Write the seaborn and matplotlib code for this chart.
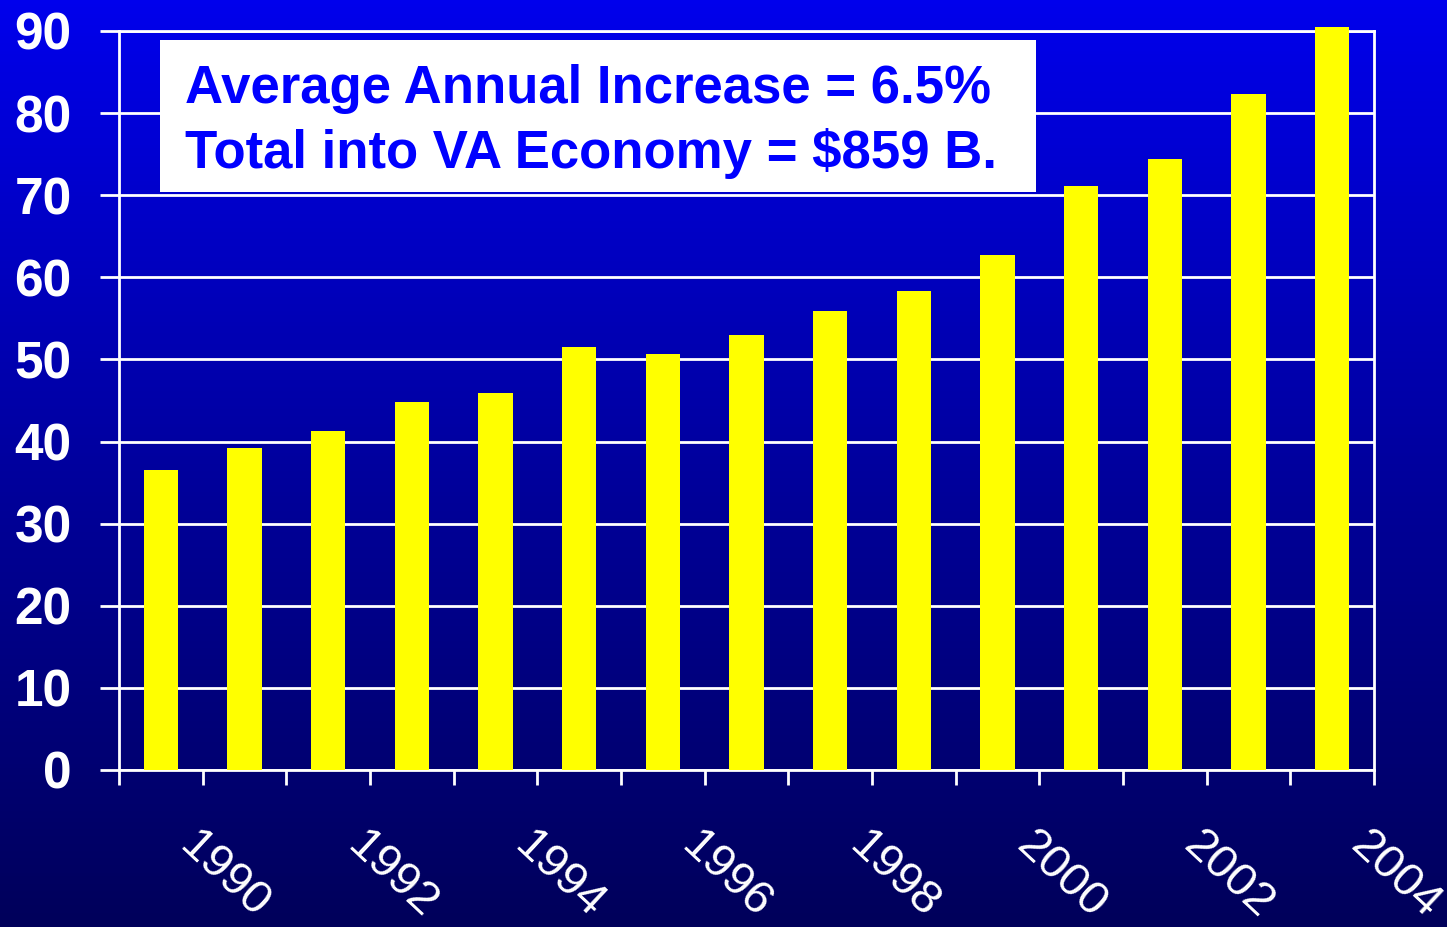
import numpy as np
import seaborn as sns
import matplotlib.pyplot as plt
from matplotlib.colors import LinearSegmentedColormap
from matplotlib.patches import Rectangle
from matplotlib.transforms import ScaledTranslation

# Values (billions of dollars)
years = [str(y) for y in range(1990, 2005)]
values = [36.5, 39.2, 41.3, 44.8, 45.9, 51.5, 50.7, 53.0, 55.9, 58.3,
          62.7, 71.1, 74.4, 82.3, 90.5]
yticks = list(range(0, 100, 10))
shown_years = years[::2]
box_lines = ["Average Annual Increase = 6.5%", "Total into VA Economy = $859 B."]

sns.set_style("white")
plt.rcParams['font.family'] = ['Liberation Sans', 'DejaVu Sans']

fig = plt.figure(figsize=(14.47, 9.27), dpi=100)

# gradient background
bg = fig.add_axes([0, 0, 1, 1], zorder=-10)
cmap = LinearSegmentedColormap.from_list("bg", ["#00005A", "#00009E", "#0000EC"])
bg.imshow(np.linspace(0, 1, 256).reshape(-1, 1), aspect='auto', cmap=cmap,
          origin='lower', extent=[0, 1, 0, 1])
bg.axis('off')

ax = fig.add_axes([0.0822, 0.1694, 0.8674, 0.7972])
ax.patch.set_alpha(0)
sns.barplot(x=years, y=values, color='#FFFF00', saturation=1, width=0.41,
            linewidth=0, edgecolor='none', clip_on=False, ax=ax, zorder=3)

ax.set_ylim(0, 90)
ax.set_xlim(-0.5, len(years) - 0.5)
ax.set_yticks(yticks)
ax.set_yticklabels([str(t) for t in yticks], color='white', fontsize=37,
                   fontweight='bold')
ax.tick_params(axis='y', left=True, length=14, width=2, color='white', pad=20)

# tick marks between bars, labels every other year
ax.set_xticks(np.arange(-0.5, len(years), 1))
ax.set_xticklabels([])
ax.tick_params(axis='x', which='major', bottom=True, length=11, width=2,
               color='white')
ax.set_xticks(np.arange(0, len(years), 2), minor=True)
ax.set_xticklabels(shown_years, minor=True, rotation=-43, ha='left', va='top',
                   rotation_mode='anchor', color='white', fontsize=34)
ax.tick_params(axis='x', which='minor', bottom=True, length=0, pad=0)
offset = ScaledTranslation(0.40, -0.53, fig.dpi_scale_trans)
for lbl in ax.get_xticklabels(minor=True):
    lbl.set_transform(lbl.get_transform() + offset)

ax.grid(axis='y', color='white', linewidth=2)
ax.set_axisbelow(True)
for side in ['left', 'bottom', 'top', 'right']:
    ax.spines[side].set_visible(True)
    ax.spines[side].set_color('white')
    ax.spines[side].set_linewidth(2)
ax.set_xlabel("")
ax.set_ylabel("")

# white annotation box
ax.add_patch(Rectangle((0.0327, 0.782), 0.6976, 0.206, transform=ax.transAxes,
                       facecolor='white', edgecolor='none', zorder=5))
ax.text(0.0526, 0.877, "\n".join(box_lines), transform=ax.transAxes,
        color='#0000FF', fontsize=38, fontweight='bold', va='center', ha='left',
        linespacing=1.35, zorder=6)

fig.savefig("out.png", dpi=100)
